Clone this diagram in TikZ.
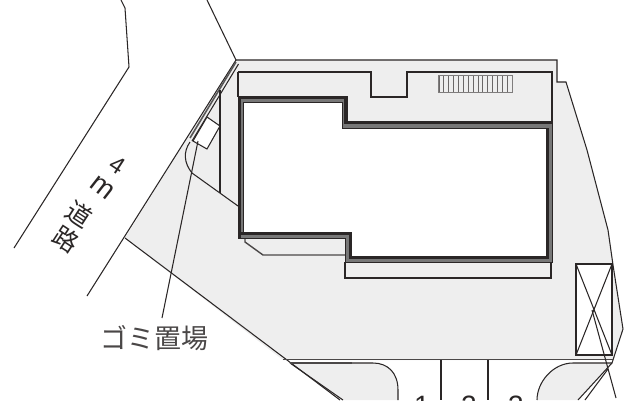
\documentclass[tikz,border=0pt]{standalone}
\usepackage{fontspec}
\setmainfont{Liberation Sans}
\newfontfamily\cjk{Noto Sans CJK JP}
\definecolor{site}{HTML}{EEEEEE}
\definecolor{ink}{HTML}{2A2626}
\definecolor{wallg}{HTML}{777777}
\tikzset{
  line/.style={draw=ink,line width=1.05pt,line join=miter},
  thin line/.style={draw=ink,line width=.8pt},
  heavy/.style={draw=ink,line width=1.6pt},
  softline/.style={draw=ink!85,line width=1.4pt},
  lbl/.style={text=ink,inner sep=0pt},
}
\begin{document}
\begin{tikzpicture}[x=1pt,y=-1pt]
\useasboundingbox (0,0) rectangle (640,400);
\fill[white] (0,0) rectangle (640,400);
% site
\fill[site] (236,60)--(557,60)--(557,82)--(566,82)--(587,150)--(608,230)--(613,265)--(623,329)--(613,360)--(283,360)--(125,238)--cycle;
% parking islands
\fill[site] (290,363)--(373,363) .. controls (388,363) and (398,373) .. (398,390)--(398,400)--(343,400)--cycle;
\fill[site] (612,363)--(573,363) .. controls (553,363) and (537,382) .. (537,400)--(578,400)--cycle;
% roads
\draw[line] (121,0)--(125,8)--(129,67)--(14,248);
\draw[line] (207,0)--(236,60)--(87,296);
\draw[line] (125,238)--(283,357)--(340,400);
\draw[line] (290,363)--(343,400);
\draw[line] (236,60)--(557,60)--(557,82)--(566,82)--(587,150)--(608,230)--(613,265)--(623,329)--(612,363)--(578,400);
\draw[line] (608,369)--(585,400);
% ledges
\draw[heavy,draw=wallg!60!ink] (236,62)--(190,138);
\draw[line] (238.5,64)--(192,141);
\draw[line] (238,72)--(371,72)--(371,97)--(407,97)--(407,72)--(552,72)--(552,121);
\draw[softline] (245,238)--(245,242)--(263,255)--(345,255);
\draw[line] (345,262)--(345,278)--(551,278)--(551,262);
\draw[line] (220,90)--(220,193);
\draw[line] (190,142) .. controls (183,152) and (184,163) .. (192,173) -- (238,206);
% trash box
\filldraw[line,fill=white] (207,117)--(220,126)--(207,149)--(193,141)--cycle;
% building
\fill[wallg,even odd rule] (238,96)--(347,96)--(347,121)--(552,121)--(552,262)--(345,262)--(345,238)--(238,238)--cycle
 (243,102)--(342,102)--(342,128)--(546,128)--(546,256)--(351,256)--(351,232)--(243,232)--cycle;
\fill[white] (243,102)--(342,102)--(342,128)--(546,128)--(546,256)--(351,256)--(351,232)--(243,232)--cycle;
\draw[thin line] (238,96)--(347,96)--(347,121)--(552,121)--(552,262)--(345,262)--(345,238)--(238,238)--cycle;
\draw[thin line] (243,102)--(342,102)--(342,128)--(546,128)--(546,256)--(351,256)--(351,232)--(243,232)--cycle;
\draw[draw=ink,line width=3pt] (239.6,238)--(239.6,97.5)--(345,97.5)--(345,122.5)--(552,122.5);
\draw[draw=ink,line width=3pt] (547.3,128)--(547.3,257.3)--(350,257.3)--(350,233.3)--(238,233.3);
\draw[draw=ink,line width=2pt] (238,72)--(238,97);
% louvre
\foreach \i in {0,...,15}{\draw[draw=ink!70,line width=.8pt] ({439+\i*4.87},75)--({439+\i*4.87},92);}
\draw[draw=ink!60,line width=.7pt] (438.5,75) rectangle (512,92);
% right box
\filldraw[line,fill=white] (576,264) rectangle (612,355);
\draw[line] (576,264)--(612,355);
\draw[line] (612,264)--(576,355);
% bottom line
\draw[draw=ink!85,line width=1.8pt] (283,359.5)--(613,359.5);
\draw[softline] (290,363)--(352,363);
\draw[line] (352,363)--(373,363) .. controls (388,363) and (398,373) .. (398,390)--(398,400);
\draw[line] (612,363)--(573,363) .. controls (553,363) and (537,382) .. (537,400);
\draw[line] (441,360)--(441,400);
\draw[line] (488,360)--(488,400);
% labels
\node[lbl,font=\cjk\fontsize{27}{27}\selectfont,text=ink!85] (lblgomi) at (154,338) {ゴミ置場};
\node[lbl,font=\fontsize{24}{24}\selectfont,rotate=-33] (lbl4) at (118,165) {4};
\node[lbl,font=\fontsize{28}{28}\selectfont,rotate=-38] (lblm) at (102,188) {m};
\node[lbl,font=\cjk\fontsize{25}{25}\selectfont,rotate=-33] (lbldo) at (79,214) {道};
\node[lbl,font=\cjk\fontsize{25}{25}\selectfont,rotate=-33] (lblro) at (66,239) {路};
\node[lbl,font=\fontsize{28}{28}\selectfont,anchor=north] (n1) at (422,396) {1};
\node[lbl,font=\fontsize{28}{28}\selectfont,anchor=north] (n2) at (469,396) {2};
\node[lbl,font=\fontsize{28}{28}\selectfont,anchor=north] (n3) at (516,396) {3};
% leaders
\coordinate (trashend) at (198,141);
\coordinate (gateA) at (592,310);
\coordinate (gateB) at (616,398);
\draw[line] (trashend)--(162,318);
\draw[line] (gateA)--(gateB);
\end{tikzpicture}
\end{document}
